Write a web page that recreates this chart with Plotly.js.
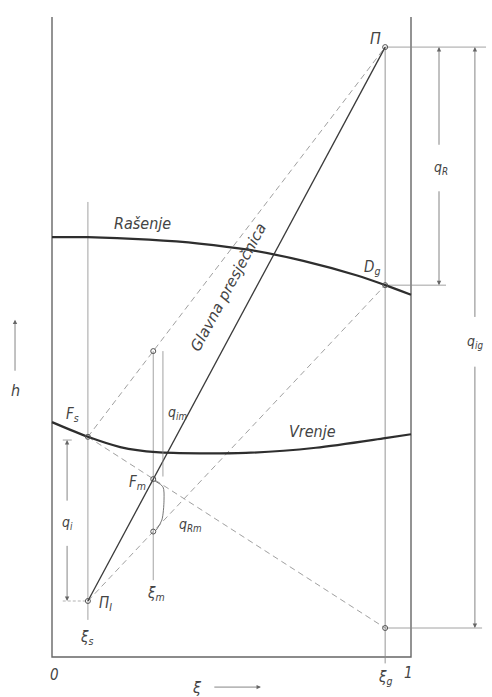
<!DOCTYPE html>
<html>
<head>
<meta charset="utf-8">
<script src="https://cdn.plot.ly/plotly-3.0.1.min.js"></script>
<style>
  body { margin: 0; background: #fff; }
  #plot { width: 492px; height: 697px; }
</style>
</head>
<body>
<div id="plot"></div>
<script>
// h-xi dijagram (Ponchon-Savarit), vrijednosti ocitane sa slike
const vrenjeXi = [0, 0.10, 0.19, 0.29, 0.54, 0.735, 0.928, 1.0];
const vrenjeH  = [36.7, 34.4, 32.8, 32.0, 31.9, 32.7, 34.2, 34.8];

const rasenjeXi = [0, 0.10, 0.27, 0.41, 0.55, 0.70, 0.85, 0.928, 1.0];
const rasenjeH  = [65.6, 65.6, 65.2, 64.6, 63.6, 61.9, 59.6, 58.1, 56.6];

// karakteristicne tocke
const xiS = 0.10, xiG = 0.928, xiM = 0.282;
const hPi = 95.3, hDg = 58.1, hPiDno = 4.53;
const hFs = 34.4, hPiI = 8.75;
const hFm = 27.8, hMgore = 47.8, hMdolje = 19.6;

// zavinuta strelica q_Rm
const qRmXi = [0.287, 0.309, 0.312, 0.306, 0.290];
const qRmH  = [27.5, 26.6, 24.5, 21.4, 19.8];

const dark = '#3a3a3a';
const thin = '#8a8a8a';
const dash = '#a0a0a0';
const fontFam = 'DejaVu Sans Condensed, DejaVu Sans, sans-serif';

function line(x, y, color, width, dashStyle, shape) {
    return {
        x: x, y: y, mode: 'lines', hoverinfo: 'skip', showlegend: false,
        line: { color: color, width: width, dash: dashStyle || 'solid', shape: shape || 'linear', smoothing: 0.8 }
    };
}

const traces = [
    // okvir
    line([0, 0, 1, 1], [100, 0, 0, 100], '#666', 1.4),
    // vertikale
    line([xiS, xiS], [71.1, 5.8], thin, 0.8),
    line([xiG, xiG], [hPi, -1], thin, 0.9),
    line([xiM, xiM], [hMgore, 12.0], thin, 0.8),
    // horizontale kota
    line([xiG, 1.209], [hPi, hPi], thin, 0.8),
    line([xiG, 1.0975], [hDg, hDg], thin, 0.8),
    line([xiG, 1.198], [hPiDno, hPiDno], thin, 0.8),
    line([0.03, xiS], [hPiI, hPiI], dash, 0.8, '3px,2px'),
    line([0.03, 0.055], [33.9, 33.9], thin, 0.8),
    // isprekidane pogonske linije
    line([xiS, xiG], [hFs, hPi], dash, 1, '6px,4px'),
    line([xiS, xiG], [hFs, hPiDno], dash, 1, '6px,4px'),
    line([xiS, xiG], [hPiI, hDg], dash, 1, '6px,4px'),
    // glavna presjecnica
    line([xiS, xiG], [hPiI, hPi], dark, 1.3),
    // krivulje
    line(rasenjeXi, rasenjeH, '#2e2e2e', 2.2, 'solid', 'spline'),
    line(vrenjeXi, vrenjeH, '#2e2e2e', 2.2, 'solid', 'spline'),
    // q_im kota i q_Rm
    line([0.309, 0.309], [hMgore, 28.2], thin, 0.8),
    line(qRmXi, qRmH, '#666', 0.9, 'solid', 'spline'),
    // tocke
    {
        x: [xiG, xiG, xiG, xiS, xiS, xiM, xiM, xiM],
        y: [hPi, hDg, hPiDno, hPiI, hFs, hFm, hMgore, hMdolje],
        mode: 'markers', hoverinfo: 'skip', showlegend: false,
        marker: { symbol: 'circle-open', size: 5, color: '#555', line: { width: 1 } }
    }
];

function label(text, x, y, size, angle, family) {
    return {
        x: x, y: y, xref: 'x', yref: 'y', text: '<i>' + text + '</i>', showarrow: false,
        textangle: angle || 0,
        font: { family: family || fontFam, size: size || 14, color: '#444' }
    };
}

function arrow(x0, y0, x1, y1) {
    // vrh strelice u (x1, y1)
    return {
        x: x1, y: y1, ax: x0, ay: y0, xref: 'x', yref: 'y', axref: 'x', ayref: 'y',
        text: '', showarrow: true, arrowhead: 2, arrowsize: 1.1, arrowwidth: 0.8, arrowcolor: '#666'
    };
}

const annotations = [
    label('Π', 0.900, 96.6, 16),
    label('D<sub>g</sub>', 0.891, 60.8, 15),
    label('Rašenje', 0.253, 67.8, 16),
    label('Vrenje', 0.727, 35.2, 16),
    label('Glavna presječnica', 0.492, 57.8, 15, -61.8, 'DejaVu Sans, sans-serif'),
    label('F<sub>s</sub>', 0.058, 37.9, 15),
    label('F<sub>m</sub>', 0.237, 27.2, 15),
    label('q<sub>im</sub>', 0.350, 38.1, 14),
    label('q<sub>Rm</sub>', 0.387, 20.6, 14),
    label('q<sub>i</sub>', 0.042, 20.9, 14),
    label('Π<sub>I</sub>', 0.148, 8.3, 15),
    label('ξ<sub>s</sub>', 0.097, 3.0, 15),
    label('ξ<sub>m</sub>', 0.289, 10.0, 15),
    label('0', 0.008, -2.8, 15),
    label('ξ<sub>g</sub>', 0.928, -3.2, 15),
    label('1', 0.994, -2.5, 15),
    label('ξ', 0.404, -4.8, 16),
    label('h', -0.103, 41.7, 16),
    label('q<sub>R</sub>', 1.084, 76.4, 14),
    label('q<sub>ig</sub>', 1.178, 49.2, 14),
    // kote
    arrow(1.078, 79.8, 1.078, hPi),
    arrow(1.078, 73.0, 1.078, hDg),
    arrow(1.178, 52.9, 1.178, hPi),
    arrow(1.178, 45.6, 1.178, hPiDno),
    arrow(0.042, 24.2, 0.042, 33.9),
    arrow(0.042, 17.6, 0.042, hPiI),
    arrow(-0.103, 44.5, -0.103, 52.7),
    arrow(0.448, -4.7, 0.582, -4.7)
];

const layout = {
    width: 492, height: 697,
    margin: { l: 0, r: 0, t: 0, b: 0 },
    paper_bgcolor: '#fff', plot_bgcolor: '#fff',
    xaxis: { range: [-0.14485, 1.22563], visible: false, fixedrange: true },
    yaxis: { range: [-6.25, 102.656], visible: false, fixedrange: true },
    annotations: annotations,
    showlegend: false
};

Plotly.newPlot('plot', traces, layout, { staticPlot: true });
</script>
</body>
</html>
